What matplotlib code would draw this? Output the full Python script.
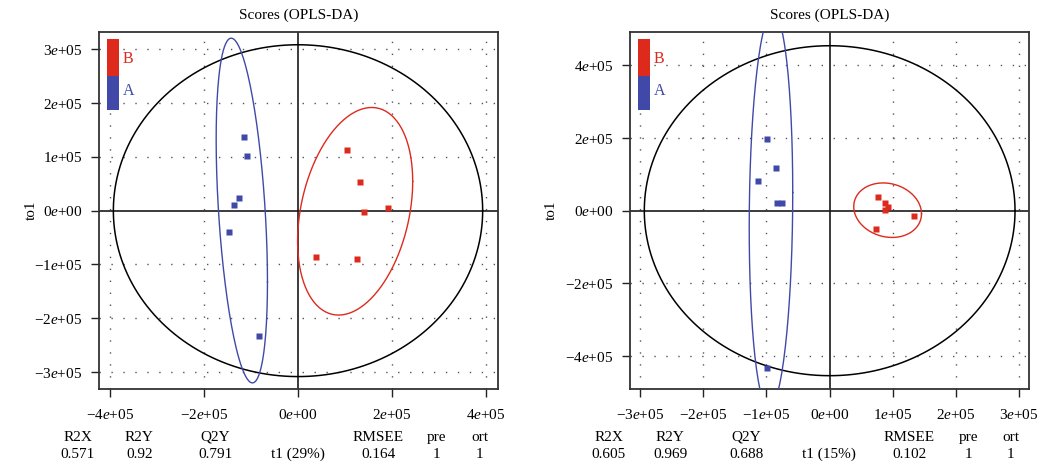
import numpy as np
import matplotlib
matplotlib.use("Agg")
import matplotlib.pyplot as plt
from matplotlib.patches import Rectangle

plt.rcParams["font.family"] = ["Liberation Serif", "DejaVu Serif"]
plt.rcParams["mathtext.fontset"] = "custom"
plt.rcParams["mathtext.rm"] = "Liberation Serif"
plt.rcParams["mathtext.it"] = "Liberation Serif:italic"

# ---- scores (t1 = predictive, to1 = orthogonal) ----
left_A_t1 = [-1.155e5, -1.09e5, -1.262e5, -1.362e5, -1.468e5, -0.836e5]
left_A_to1 = [1.37e5, 1.017e5, 0.236e5, 0.112e5, -0.39e5, -2.33e5]
left_B_t1 = [1.036e5, 1.313e5, 1.404e5, 1.908e5, 0.383e5, 1.248e5]
left_B_to1 = [1.128e5, 0.533e5, -0.02e5, 0.05e5, -0.86e5, -0.898e5]

right_A_t1 = [-0.997e5, -0.85e5, -1.139e5, -0.834e5, -0.755e5, -0.997e5]
right_A_to1 = [1.978e5, 1.181e5, 0.824e5, 0.22e5, 0.22e5, -4.33e5]
right_B_t1 = [0.759e5, 0.87e5, 0.87e5, 0.927e5, 1.339e5, 0.737e5]
right_B_to1 = [0.385e5, 0.22e5, 0.03e5, 0.09e5, -0.146e5, -0.494e5]

# ---- model summaries ----
summary_headers = ["R2X", "R2Y", "Q2Y", "", "RMSEE", "pre", "ort"]
left_summary = ["0.571", "0.92", "0.791", "t1 (29%)", "0.164", "1", "1"]
right_summary = ["0.605", "0.969", "0.688", "t1 (15%)", "0.102", "1", "1"]

# ---- ticks ----
left_xticks = [-4e5, -2e5, 0, 2e5, 4e5]
left_xticklabels = ["\u22124$\\mathit{e}$+05", "\u22122$\\mathit{e}$+05", "0$\\mathit{e}$+00",
                    "2$\\mathit{e}$+05", "4$\\mathit{e}$+05"]
left_yticks = [-3e5, -2e5, -1e5, 0, 1e5, 2e5, 3e5]
left_yticklabels = ["\u22123$\\mathit{e}$+05", "\u22122$\\mathit{e}$+05", "\u22121$\\mathit{e}$+05",
                    "0$\\mathit{e}$+00", "1$\\mathit{e}$+05", "2$\\mathit{e}$+05", "3$\\mathit{e}$+05"]
right_xticks = [-3e5, -2e5, -1e5, 0, 1e5, 2e5, 3e5]
right_xticklabels = ["\u22123$\\mathit{e}$+05", "\u22122$\\mathit{e}$+05", "\u22121$\\mathit{e}$+05",
                     "0$\\mathit{e}$+00", "1$\\mathit{e}$+05", "2$\\mathit{e}$+05", "3$\\mathit{e}$+05"]
right_yticks = [-4e5, -2e5, 0, 2e5, 4e5]
right_yticklabels = ["\u22124$\\mathit{e}$+05", "\u22122$\\mathit{e}$+05", "0$\\mathit{e}$+00",
                     "2$\\mathit{e}$+05", "4$\\mathit{e}$+05"]

RED = "#DD2A1D"
BLUE = "#4149A8"
FS = 11


def group_ellipse(x, y, n_pts=200):
    """95% normal ellipse of a class (chi-square, 2 df)."""
    xy = np.column_stack([x, y])
    mu = xy.mean(axis=0)
    cov = np.cov(xy, rowvar=False)
    L = np.linalg.cholesky(cov)
    a = np.linspace(0, 2 * np.pi, n_pts)
    circ = np.column_stack([np.cos(a), np.sin(a)])
    c2 = -2 * np.log(0.05)
    e = mu + np.sqrt(c2) * circ @ L.T
    return e[:, 0], e[:, 1]


def hotelling_ellipse(x, y, n_pts=200):
    """Hotelling T2 95% ellipse of all scores, centred at origin."""
    n = len(x)
    d = n - 2
    fq = (d / 2.0) * (0.05 ** (-2.0 / d) - 1.0)  # F(0.95; 2, d)
    hot = (n - 1) * 2 * (n ** 2 - 1) / (n ** 2 * (n - 2)) * fq
    a = np.linspace(0, 2 * np.pi, n_pts)
    return (np.sqrt(np.var(x, ddof=1) * hot) * np.cos(a),
            np.sqrt(np.var(y, ddof=1) * hot) * np.sin(a))


def draw_panel(ax, A_t1, A_to1, B_t1, B_to1, xticks, xtl, yticks, ytl,
               xlim, ylim, summary):
    ax.set_xlim(*xlim)
    ax.set_ylim(*ylim)
    # dotted grid at labelled ticks
    for xv in xticks:
        if xv != 0:
            ax.axvline(xv, color="#555555", lw=1.0, ls=(0, (1, 7.6)), zorder=1)
    for yv in yticks:
        if yv != 0:
            ax.axhline(yv, color="#555555", lw=1.0, ls=(0, (1, 7.6)), zorder=1)
    ax.axvline(0, color="#1a1a1a", lw=1.2, zorder=2)
    ax.axhline(0, color="#1a1a1a", lw=1.2, zorder=2)

    all_t1 = np.concatenate([A_t1, B_t1])
    all_to1 = np.concatenate([A_to1, B_to1])
    ex, ey = hotelling_ellipse(all_t1, all_to1)
    ax.plot(ex, ey, color="black", lw=1.1, zorder=3)
    gx, gy = group_ellipse(A_t1, A_to1)
    ax.plot(gx, gy, color=BLUE, lw=1.0, zorder=3)
    gx, gy = group_ellipse(B_t1, B_to1)
    ax.plot(gx, gy, color=RED, lw=1.0, zorder=3)

    ax.plot(A_t1, A_to1, ls="none", marker="s", ms=4.4, mec="none", color=BLUE, zorder=4)
    ax.plot(B_t1, B_to1, ls="none", marker="s", ms=4.4, mec="none", color=RED, zorder=4)

    ax.set_xticks(xticks)
    ax.set_xticklabels(xtl, fontsize=FS)
    ax.set_yticks(yticks)
    ax.set_yticklabels(ytl, fontsize=FS)
    ax.tick_params(axis="both", direction="out", length=6, width=1.0, color="#222222")
    ax.tick_params(axis="x", pad=8)
    ax.tick_params(axis="y", pad=6)
    for sp in ax.spines.values():
        sp.set_linewidth(1.3)
        sp.set_color("#333333")

    ax.text(0.5, 1.048, "Scores (OPLS-DA)", transform=ax.transAxes,
            ha="center", va="center", fontsize=FS)
    ax.set_ylabel("to1", fontsize=FS)

    # class legend bar
    ax.add_patch(Rectangle((0.021, 0.878), 0.030, 0.102, transform=ax.transAxes,
                           color=RED, lw=0, zorder=5))
    ax.add_patch(Rectangle((0.021, 0.782), 0.030, 0.096, transform=ax.transAxes,
                           color=BLUE, lw=0, zorder=5))
    ax.text(0.060, 0.924, "B", color=RED, transform=ax.transAxes,
            ha="left", va="center", fontsize=FS + 0.5, zorder=5)
    ax.text(0.060, 0.836, "A", color=BLUE, transform=ax.transAxes,
            ha="left", va="center", fontsize=FS + 0.5, zorder=5)

    col_x = [-0.053, 0.101, 0.291, 0.4985, 0.700, 0.847, 0.954]
    for cx, hdr, val in zip(col_x, summary_headers, summary):
        if hdr:
            ax.text(cx, -0.145, hdr, transform=ax.transAxes, ha="center",
                    va="baseline", fontsize=FS)
        ax.text(cx, -0.193, val, transform=ax.transAxes, ha="center",
                va="baseline", fontsize=FS)


fig = plt.figure(figsize=(10.43, 4.68), dpi=100)
ax1 = fig.add_axes([0.0949, 0.1688, 0.3826, 0.7628])
ax2 = fig.add_axes([0.6040, 0.1688, 0.3828, 0.7628])

draw_panel(ax1, left_A_t1, left_A_to1, left_B_t1, left_B_to1,
           left_xticks, left_xticklabels, left_yticks, left_yticklabels,
           (-4.234e5, 4.255e5), (-3.314e5, 3.32e5), left_summary)
draw_panel(ax2, right_A_t1, right_A_to1, right_B_t1, right_B_to1,
           right_xticks, right_xticklabels, right_yticks, right_yticklabels,
           (-3.16e5, 3.158e5), (-4.907e5, 4.918e5), right_summary)

ax1.yaxis.set_label_coords(-0.153, 0.5)
ax2.yaxis.set_label_coords(-0.180, 0.5)

fig.savefig("out.png", dpi=100)
